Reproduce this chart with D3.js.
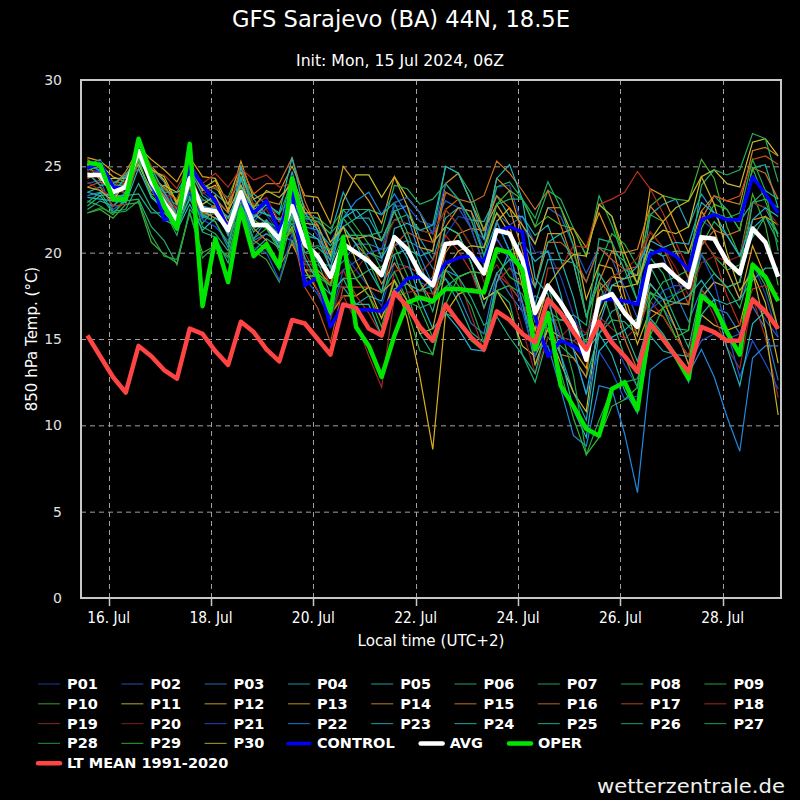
<!DOCTYPE html>
<html>
<head>
<meta charset="utf-8">
<script src="https://cdn.jsdelivr.net/npm/d3@7"></script>
<style>
  body { margin: 0; background: #000; }
</style>
</head>
<body>
<div id="display"></div>
<script>
// run starts 15 Jul 2024 14:00 local (12Z), one value every 6 hours
const startTime = Date.UTC(2024, 6, 15, 14);
const stepHours = 6;

const ltMean = [15.2,14.0,12.8,11.9, 14.6,14.0,13.2,12.7, 15.6,15.3,14.3,13.5, 16.0,15.4,14.4,13.7, 16.1,15.9,15.0,14.1, 17.0,16.8,15.6,15.2, 17.7,16.9,15.7,14.9, 17.0,16.0,15.1,14.4, 16.6,16.1,15.3,14.8, 17.3,16.5,15.4,14.4, 16.0,14.8,14.0,13.1, 15.9,15.0,14.0,13.1, 15.7,15.4,14.9,14.9, 17.3,16.6,15.6];
const avg = [24.5,24.5,23.5,23.8, 25.9,24.1,22.9,21.9, 24.3,22.5,22.4,21.3, 23.5,21.6,21.6,20.8, 22.7,20.5,19.8,18.6, 20.5,20.0,19.5,18.7, 20.9,20.2,18.8,18.1, 20.5,20.6,19.9,18.8, 21.3,21.1,19.6,16.5, 18.1,17.1,15.9,13.8, 17.3,17.6,16.5,15.7, 19.2,19.3,18.6,18.0, 20.9,20.8,19.5,18.8, 21.4,20.6,18.6];
const control = [24.9,25.2,23.8,23.7, 26.1,24.3,21.9,22.1, 25.0,23.9,23.0,21.4, 23.3,22.3,23.0,21.2, 23.6,18.1,18.6,15.7, 17.0,16.7,16.7,16.6, 17.6,18.5,18.6,18.3, 19.4,19.7,19.8,19.5, 21.2,21.5,21.2,16.3, 14.0,14.9,14.6,14.0, 17.3,17.3,17.2,17.0, 19.9,20.2,19.8,19.0, 21.9,22.2,21.9,21.9, 24.4,23.4,22.3];
const oper = [25.2,25.1,23.1,23.1, 26.6,24.5,22.7,21.4, 26.3,16.9,20.8,18.3, 22.5,19.8,20.5,19.2, 24.3,21.4,18.6,16.6, 20.9,15.7,14.6,12.8, 15.2,17.1,17.4,17.2, 17.9,17.9,17.8,17.7, 20.2,20.0,19.0,14.4, 16.5,12.3,11.1,9.8, 9.4,12.1,12.5,10.9, 15.9,15.0,14.0,12.7, 17.5,16.9,15.4,14.1, 19.3,18.6,17.2];

const p01 = [24.8,24.7,23.0,23.5, 26.1,23.7,23.4,22.7, 24.9,23.5,22.9,21.7, 24.3,22.8,22.2,21.1, 23.7,22.0,21.0,19.1, 20.0,19.0,18.0,16.9, 19.4,19.2,18.3,17.9, 21.0,22.1,21.9,20.3, 23.8,23.9,21.6,20.0, 20.1,18.6,16.4,14.6, 15.8,15.1,13.5,12.2, 16.7,17.3,17.6,18.5, 21.9,21.3,19.0,17.3, 19.4,17.6,15.1];
const p02 = [24.0,24.2,22.5,23.0, 25.6,24.3,23.3,22.2, 23.5,23.0,23.2,22.3, 23.0,21.8,22.6,22.3, 23.2,22.3,22.0,20.6, 22.0,21.0,20.0,19.5, 22.7,22.7,21.8,21.6, 23.0,22.6,21.4,20.8, 22.3,21.6,22.1,20.5, 22.6,22.1,20.4,18.8, 20.3,19.6,18.0,16.2, 17.7,16.8,15.6,13.5, 14.9,15.3,15.0,15.3, 17.4,16.1,15.1];
const p03 = [23.3,23.5,23.2,24.0, 25.1,23.6,22.7,22.4, 23.3,22.0,22.6,22.1, 22.0,20.8,21.9,21.0, 20.7,19.3,19.3,18.8, 19.5,20.5,20.5,20.2, 20.4,20.7,20.3,19.1, 18.5,17.6,15.9,15.3, 18.8,17.6,16.6,17.5, 17.1,15.1,14.9,15.3, 16.8,18.6,19.0,18.7, 20.2,19.8,17.6,16.0, 17.9,16.8,16.5,15.3, 16.9,15.6,12.6];
const p04 = [25.0,24.8,23.3,23.3, 25.4,24.9,24.1,22.3, 24.8,24.0,23.4,22.8, 24.4,23.4,22.8,21.3, 24.7,22.0,21.8,21.1, 23.5,22.0,22.0,20.7, 22.4,22.7,20.8,19.6, 22.0,22.6,22.4,19.8, 21.8,20.1,17.1,13.5, 15.6,14.1,11.9,10.3, 15.3,16.6,17.0,17.2, 22.2,22.8,23.1,21.5, 23.4,22.3,22.0,21.8, 22.9,22.6,21.1];
const p05 = [23.5,23.8,22.7,23.5, 25.3,23.2,22.6,22.0, 23.8,22.1,22.7,21.1, 24.2,23.1,22.2,22.0, 21.2,18.5,18.8,18.1, 18.0,17.0,17.5,17.2, 19.9,20.2,19.8,20.1, 23.5,23.1,21.9,21.8, 23.3,22.1,22.1,21.0, 21.6,19.6,17.4,14.3, 15.3,14.1,12.0,10.7, 15.2,14.3,14.1,14.0, 17.4,18.3,18.0,18.3, 21.4,22.1,21.1];
const p06 = [22.5,23.0,22.7,23.3, 23.4,22.3,22.3,21.5, 23.1,22.0,22.3,21.6, 22.5,20.1,20.8,20.3, 22.9,21.3,20.8,20.0, 21.5,22.0,22.5,22.2, 22.9,21.2,19.3,17.6, 18.5,17.1,15.4,14.8, 18.3,19.1,18.6,17.0, 19.6,19.6,19.4,18.3, 20.3,20.1,19.5,18.2, 20.2,19.8,20.1,20.0, 21.9,23.3,22.5,21.3, 24.9,25.1,22.6];
const p07 = [22.7,23.3,22.3,23.0, 23.1,21.5,20.7,19.3, 22.5,21.7,22.6,21.7, 22.7,21.2,21.8,21.4, 23.2,20.7,19.5,17.6, 18.5,18.5,19.0,19.2, 19.9,17.7,15.3,14.1, 18.0,18.6,18.9,17.3, 17.8,17.1,14.1,12.5, 15.1,14.6,13.9,12.8, 15.3,16.1,16.0,15.2, 17.7,17.3,15.6,15.5, 20.4,21.8,21.0,19.8, 20.9,22.1,20.6];
const p08 = [24.8,25.0,24.1,24.0, 26.3,24.7,23.1,22.8, 24.0,23.1,22.6,21.2, 24.4,21.7,21.4,20.3, 22.0,19.5,19.5,19.2, 21.0,20.8,21.0,20.7, 21.9,22.2,21.3,21.1, 25.0,24.6,23.4,21.3, 23.8,24.1,23.1,21.5, 23.6,23.1,21.4,19.8, 23.3,21.6,19.5,17.2, 19.7,18.8,17.1,17.0, 19.9,18.8,18.0,16.8, 19.4,18.1,15.6];
const p09 = [23.0,22.7,22.2,23.2, 25.5,24.5,23.7,23.1, 25.2,23.9,23.7,23.2, 25.0,22.7,22.8,22.2, 24.1,22.1,22.0,21.4, 22.5,21.5,20.5,19.0, 20.4,18.7,16.8,15.1, 16.5,16.1,14.9,14.3, 17.8,18.1,17.1,14.5, 16.6,16.1,15.9,14.8, 19.3,21.1,20.5,19.2, 22.2,21.8,20.1,18.5, 20.9,19.8,19.0,19.3, 22.9,23.1,22.6];
const p10 = [22.3,22.5,22.0,22.8, 22.9,20.6,19.9,19.4, 22.3,20.0,20.4,19.8, 22.5,20.1,19.6,18.3, 20.7,19.0,18.8,18.1, 21.0,21.0,20.0,19.7, 22.9,23.2,22.3,21.1, 22.5,21.6,20.4,20.3, 22.8,23.6,23.1,21.5, 22.1,21.6,21.4,19.8, 22.8,22.1,19.5,18.2, 22.7,23.3,23.1,23.0, 25.4,24.3,21.5,19.8, 23.4,21.6,18.1];
const p11 = [25.1,24.2,24.3,24.3, 25.1,23.6,23.9,23.5, 23.9,22.8,23.3,21.7, 22.9,22.5,22.9,21.8, 23.2,21.7,21.6,19.8, 23.0,24.5,24.5,23.2, 24.4,23.2,22.3,20.6, 21.5,21.1,19.4,17.3, 17.8,16.6,14.6,14.0, 15.6,13.6,11.9,10.8, 16.3,18.1,18.0,18.2, 20.7,21.3,21.1,21.5, 24.4,24.8,24.0,23.8, 26.4,26.6,25.6];
const p12 = [25.3,25.1,24.4,24.1, 26.3,25.0,24.2,22.8, 25.0,23.6,23.9,22.5, 24.7,22.3,21.7,20.3, 21.5,19.0,17.8,16.4, 17.5,17.5,18.0,17.7, 18.4,16.2,12.8,8.6, 16.5,17.6,17.9,17.8, 21.8,22.6,21.6,20.5, 22.6,22.6,20.9,17.3, 19.3,19.1,17.0,14.7, 16.7,16.3,15.1,14.0, 16.4,15.8,15.5,15.8, 18.9,17.1,13.6];
const p13 = [25.5,25.3,24.7,24.3, 26.1,25.4,24.8,24.1, 25.5,24.4,24.3,22.8, 25.3,23.1,23.5,23.5, 25.0,23.3,23.2,21.7, 25.0,24.0,23.0,21.7, 24.4,22.7,20.3,20.1, 24.0,24.6,22.9,21.3, 22.8,21.6,18.6,13.5, 15.6,15.1,14.4,13.3, 17.8,18.6,18.5,18.7, 23.7,23.3,21.6,20.0, 22.4,21.3,19.0,17.3, 20.4,18.6,15.6];
const p14 = [24.3,24.6,23.8,24.7, 26.0,24.6,23.2,22.5, 24.5,22.4,22.0,21.6, 23.9,21.4,20.7,19.2, 20.5,19.0,19.0,18.2, 21.0,20.8,21.0,20.7, 22.4,20.7,18.3,17.1, 21.5,22.6,22.4,20.8, 24.3,23.6,21.1,18.0, 21.1,21.1,21.4,20.3, 22.3,20.6,17.5,15.2, 18.2,17.3,15.6,13.5, 17.4,18.3,18.0,18.3, 21.9,22.1,21.6];
const p15 = [24.9,25.2,23.6,23.5, 25.7,24.0,23.3,22.1, 23.8,22.3,22.7,22.0, 23.2,22.0,23.0,22.8, 24.3,22.6,21.6,20.0, 21.5,20.5,19.7,18.2, 19.4,18.2,17.3,17.1, 20.0,21.1,21.4,21.3, 23.3,22.6,20.1,16.0, 16.1,14.1,13.9,12.8, 18.3,20.1,20.0,20.2, 22.7,21.8,20.1,18.5, 22.4,23.3,23.0,22.8, 25.9,26.1,25.6];
const p16 = [25.4,24.9,23.4,23.1, 25.3,24.4,23.8,23.0, 25.1,23.7,23.1,22.3, 25.0,23.4,24.0,24.0, 25.5,23.0,21.3,19.1, 20.0,18.5,17.5,16.2, 17.9,18.2,17.8,18.6, 22.5,23.1,22.9,23.3, 25.3,24.6,23.6,22.5, 23.6,21.6,19.4,16.3, 18.3,17.6,15.0,13.2, 16.2,16.8,17.1,17.0, 20.4,21.3,21.0,21.3, 24.9,24.6,23.1];
const p17 = [23.8,24.1,23.8,24.6, 24.8,23.4,23.1,22.6, 23.7,22.2,22.8,21.0, 22.2,20.5,21.1,20.6, 21.2,18.0,16.8,14.8, 18.0,18.0,18.0,17.7, 20.4,21.2,20.8,20.6, 23.5,23.1,21.4,19.3, 20.8,19.6,19.1,18.0, 20.6,20.6,19.9,18.3, 20.3,19.6,19.0,19.2, 21.2,20.3,18.6,17.0, 21.9,23.3,23.0,23.3, 25.4,25.6,25.1];
const p18 = [24.7,23.9,22.7,22.8, 25.6,24.7,24.5,23.7, 25.2,24.0,24.6,23.8, 24.9,24.2,24.5,23.8, 24.0,21.3,19.8,18.1, 19.0,17.5,16.5,15.2, 18.9,19.2,18.8,19.6, 21.0,20.1,18.9,16.8, 18.8,18.1,17.1,15.5, 19.1,19.1,20.4,20.3, 22.8,23.1,23.5,24.7, 23.7,22.3,20.6,19.0, 20.9,19.8,17.5,15.8, 17.9,18.1,17.6];
const p19 = [24.1,23.6,23.3,24.2, 26.2,25.0,23.4,23.1, 24.7,23.4,23.8,23.1, 24.2,22.8,23.2,21.8, 23.1,20.0,18.6,16.6, 17.5,16.0,14.0,12.2, 17.4,17.7,17.8,17.6, 19.5,18.6,16.4,14.3, 18.3,19.1,18.1,16.5, 17.1,15.1,14.9,14.3, 16.3,15.6,15.0,15.7, 17.2,16.3,15.1,14.0, 17.9,16.3,14.5,13.3, 17.4,15.1,11.6];
const p20 = [24.8,24.6,24.1,23.7, 26.0,24.5,23.6,22.4, 24.8,22.7,22.2,21.7, 23.8,22.2,22.5,21.2, 22.2,19.5,17.8,16.1, 18.5,19.0,20.0,20.2, 21.9,21.7,21.3,21.1, 22.5,21.6,20.4,18.3, 19.3,18.1,15.6,13.0, 15.1,15.1,15.9,15.3, 17.3,18.6,19.0,19.7, 21.2,20.3,19.1,17.5, 19.4,19.8,19.5,19.8, 22.9,22.6,21.6];
const p21 = [24.4,24.8,23.1,22.9, 26.1,23.8,22.0,21.7, 23.5,21.9,21.5,20.7, 23.1,20.3,20.0,18.4, 21.1,18.5,17.6,16.2, 19.0,19.5,20.0,20.2, 22.9,23.2,22.3,21.1, 24.0,23.1,21.4,19.3, 20.8,19.6,16.6,14.0, 16.6,15.1,14.4,11.8, 14.3,13.1,11.5,11.7, 16.7,17.8,18.1,18.0, 19.9,18.3,15.5,12.8, 14.9,13.6,12.1];
const p22 = [25.2,24.7,23.2,23.9, 26.4,23.9,23.2,21.7, 24.4,22.1,21.8,20.3, 23.3,20.7,21.1,20.6, 23.1,21.5,21.3,19.5, 22.0,23.0,23.5,22.2, 23.4,22.2,19.8,18.1, 19.0,18.6,18.9,18.8, 21.8,20.1,17.1,14.5, 14.6,12.1,9.4,8.8, 12.3,12.1,9.5,6.1, 13.2,13.8,14.1,13.0, 14.4,12.8,10.5,8.5, 13.9,14.6,14.6];
const p23 = [23.5,23.3,23.4,24.4, 25.4,24.2,23.5,22.2, 24.1,22.7,22.5,21.0, 25.0,22.2,21.7,20.3, 22.2,21.0,20.8,19.1, 22.0,22.5,21.5,19.7, 20.9,19.7,17.3,15.6, 16.5,15.6,14.4,14.3, 18.3,20.1,20.6,19.5, 20.1,17.6,14.4,11.8, 15.8,18.1,18.5,19.2, 20.7,20.3,20.6,20.5, 22.9,22.3,21.0,19.8, 21.9,22.6,22.1];
const p24 = [23.2,23.1,23.0,22.9, 24.9,23.2,22.5,21.3, 22.8,21.3,22.0,21.5, 24.3,22.0,22.8,22.3, 25.5,22.3,21.3,20.4, 21.5,20.5,19.0,17.7, 21.4,21.7,21.3,21.6, 25.0,24.6,22.9,20.8, 24.3,25.1,23.1,18.5, 17.6,14.1,10.9,9.3, 14.3,15.1,15.5,16.2, 18.2,17.3,17.1,17.5, 18.4,17.3,14.5,12.3, 15.9,16.6,15.6];
const p25 = [24.6,23.9,24.0,24.5, 25.7,24.9,23.5,23.5, 24.8,23.3,22.8,22.0, 23.8,22.5,22.2,21.9, 22.4,19.7,18.3,17.6, 18.5,17.0,17.0,15.2, 17.9,18.2,17.8,18.1, 21.5,21.1,19.4,16.8, 18.8,19.6,19.6,18.0, 20.6,21.1,19.4,16.3, 18.8,17.6,15.5,13.7, 16.2,15.3,14.1,12.5, 16.4,17.3,17.0,17.3, 18.4,19.1,19.1];
const p26 = [22.9,23.5,22.4,22.5, 24.0,22.6,21.9,21.5, 23.2,21.2,20.9,19.4, 22.7,21.4,21.9,20.5, 21.7,20.0,20.3,19.6, 22.5,22.5,22.5,20.7, 22.4,20.7,18.3,16.6, 19.5,18.6,17.4,15.8, 16.3,15.1,14.1,13.0, 16.1,16.1,16.4,15.8, 20.8,20.6,19.0,17.2, 19.2,17.8,16.1,14.5, 17.9,18.8,18.0,18.3, 22.9,23.6,23.1];
const p27 = [25.1,25.4,23.9,23.9, 26.2,24.2,22.5,21.0, 23.9,21.5,21.1,20.1, 22.8,20.7,20.2,19.0, 22.1,20.3,20.4,20.2, 21.0,21.0,21.0,21.2, 23.9,23.7,22.8,23.1, 24.0,23.1,21.9,19.8, 22.8,23.1,23.1,22.0, 24.1,22.6,20.4,16.3, 18.3,16.1,14.0,12.2, 17.2,18.3,18.6,19.0, 23.9,24.8,24.5,24.8, 26.9,26.6,24.1];
const p28 = [22.3,22.6,22.3,22.4, 23.0,21.0,19.8,19.6, 22.3,19.7,20.4,19.7, 22.3,20.8,21.4,21.2, 23.7,22.0,21.8,21.1, 22.0,21.0,19.5,17.7, 18.9,17.2,16.8,17.1, 19.0,18.1,16.9,14.8, 17.8,18.1,17.6,15.5, 18.1,15.6,12.9,8.3, 10.3,12.1,12.5,12.7, 15.2,16.8,17.6,18.0, 21.9,22.3,22.0,22.3, 25.4,23.6,20.1];
const p29 = [24.8,25.0,23.3,23.2, 25.4,23.3,22.6,22.3, 24.6,22.2,21.8,20.5, 23.3,21.9,21.4,20.1, 21.4,18.7,18.6,18.1, 20.0,18.5,17.5,15.7, 18.4,16.7,14.3,14.1, 17.0,18.6,18.9,18.8, 19.8,18.6,18.1,16.0, 15.6,13.1,10.4,8.3, 9.3,11.1,11.5,12.2, 17.7,16.8,15.1,15.5, 21.4,22.8,22.5,21.3, 24.9,23.0,20.9];
const p30 = [23.8,23.6,23.0,24.1, 26.3,24.8,24.4,22.9, 24.9,23.7,24.2,22.4, 23.9,22.6,23.6,23.2, 24.0,22.3,22.3,20.6, 21.5,19.5,18.0,16.2, 18.4,17.2,15.3,15.6, 19.0,20.1,20.4,20.3, 22.3,21.1,18.1,15.5, 18.1,19.1,19.9,19.8, 22.8,22.1,20.0,18.2, 20.7,21.8,22.6,23.0, 24.4,22.8,20.0,17.8, 18.9,15.6,10.6];

const members = [p01,p02,p03,p04,p05,p06,p07,p08,p09,p10,p11,p12,p13,p14,p15,
                 p16,p17,p18,p19,p20,p21,p22,p23,p24,p25,p26,p27,p28,p29,p30];
const memberNames = members.map((m, i) => 'P' + String(i + 1).padStart(2, '0'));
const memberColors = ['#2040b0','#2458c8','#2a78c8','#20a0b8','#20b0b0','#20b090','#20b070','#20b058','#28b040','#40b030',
                      '#c8c030','#d8b020','#d8a020','#d89020','#d88020','#d07020','#c85020','#b83020','#a02828','#902020',
                      '#2050d0','#2088e0','#20b0d0','#20b8c0','#20b8a0','#20b080','#20b060','#20a848','#30b830','#c0b428'];

const yTicks = [0, 5, 10, 15, 20, 25, 30];
const xTickDays = [16, 18, 20, 22, 24, 26, 28];

const times = ltMean.map((d, i) => new Date(startTime + i * stepHours * 3600e3));

const svg = d3.select('#display')
  .append('svg')
  .attr('width', 800)
  .attr('height', 800)
  .style('display', 'block');

svg.append('rect').attr('width', 800).attr('height', 800).attr('fill', '#000');

const plotLeft = 81, plotRight = 781, plotTop = 80, plotBottom = 598;

const x = d3.scaleUtc()
  .domain([new Date(Date.UTC(2024, 6, 15, 11, 0)), new Date(Date.UTC(2024, 6, 29, 3, 20))])
  .range([plotLeft, plotRight]);
const y = d3.scaleLinear().domain([0, 30]).range([plotBottom, plotTop]);

const condensed = "'Liberation Sans Narrow', 'DejaVu Sans Condensed', 'Liberation Sans', sans-serif";
const plain = "'DejaVu Sans', 'Liberation Sans', sans-serif";

// titles
svg.append('text')
  .attr('x', 401).attr('y', 27)
  .attr('text-anchor', 'middle')
  .attr('fill', '#fff')
  .attr('font-family', condensed)
  .attr('font-size', '23px')
  .attr('textLength', 338).attr('lengthAdjust', 'spacingAndGlyphs')
  .text('GFS Sarajevo (BA) 44N, 18.5E');

svg.append('text')
  .attr('x', 400).attr('y', 66)
  .attr('text-anchor', 'middle')
  .attr('fill', '#fff')
  .attr('font-family', condensed)
  .attr('font-size', '15px')
  .attr('textLength', 208).attr('lengthAdjust', 'spacingAndGlyphs')
  .text('Init: Mon, 15 Jul 2024, 06Z');

// grid
const grid = svg.append('g')
  .attr('stroke', '#a0a0a0')
  .attr('stroke-width', 1)
  .attr('stroke-dasharray', '5,4');

grid.selectAll('line.h')
  .data(yTicks.filter(t => t > 0 && t < 30))
  .enter().append('line')
  .attr('x1', plotLeft).attr('x2', plotRight)
  .attr('y1', d => y(d) + 0.5).attr('y2', d => y(d) + 0.5);

const tickDates = xTickDays.map(d => new Date(Date.UTC(2024, 6, d)));
grid.selectAll('line.v')
  .data(tickDates)
  .enter().append('line')
  .attr('x1', d => Math.round(x(d)) + 0.5).attr('x2', d => Math.round(x(d)) + 0.5)
  .attr('y1', plotTop).attr('y2', plotBottom);

// lines
svg.append('clipPath').attr('id', 'plotclip')
  .append('rect').attr('x', plotLeft).attr('y', plotTop)
  .attr('width', plotRight - plotLeft).attr('height', plotBottom - plotTop);

const line = d3.line()
  .x((d, i) => x(times[i]))
  .y(d => y(d));

const plot = svg.append('g').attr('clip-path', 'url(#plotclip)');

plot.selectAll('path.member')
  .data(members)
  .enter().append('path')
  .attr('class', 'member')
  .attr('d', line)
  .attr('fill', 'none')
  .attr('stroke', (d, i) => memberColors[i])
  .attr('stroke-width', 1.2)
  .attr('stroke-linejoin', 'miter');

const mainSeries = [
  { values: control, color: '#0000ff', width: 3.5 },
  { values: avg, color: '#ffffff', width: 4.5 },
  { values: oper, color: '#00e600', width: 4.5 },
  { values: ltMean, color: '#ff4444', width: 4.5 }
];

plot.selectAll('path.main')
  .data(mainSeries)
  .enter().append('path')
  .attr('class', 'main')
  .attr('d', d => line(d.values))
  .attr('fill', 'none')
  .attr('stroke', d => d.color)
  .attr('stroke-width', d => d.width)
  .attr('stroke-linejoin', 'round');

// frame
svg.append('rect')
  .attr('x', plotLeft).attr('y', plotTop)
  .attr('width', plotRight - plotLeft).attr('height', plotBottom - plotTop)
  .attr('fill', 'none')
  .attr('stroke', '#c8c8c8')
  .attr('stroke-width', 2);

// x axis ticks + labels
svg.selectAll('line.xtick')
  .data(tickDates)
  .enter().append('line')
  .attr('x1', d => Math.round(x(d)) + 0.5).attr('x2', d => Math.round(x(d)) + 0.5)
  .attr('y1', plotBottom).attr('y2', plotBottom + 8)
  .attr('stroke', '#c8c8c8')
  .attr('stroke-width', 1.5);

const fmt = d3.utcFormat('%-d. %b');
svg.selectAll('text.xtick')
  .data(tickDates)
  .enter().append('text')
  .attr('x', d => x(d))
  .attr('y', 623)
  .attr('text-anchor', 'middle')
  .attr('fill', '#fff')
  .attr('font-family', condensed)
  .attr('font-size', '15px')
  .attr('textLength', 43).attr('lengthAdjust', 'spacingAndGlyphs')
  .text(d => fmt(d));

svg.append('text')
  .attr('x', (plotLeft + plotRight) / 2).attr('y', 646)
  .attr('text-anchor', 'middle')
  .attr('fill', '#fff')
  .attr('font-family', condensed)
  .attr('font-size', '16px')
  .attr('textLength', 147).attr('lengthAdjust', 'spacingAndGlyphs')
  .text('Local time (UTC+2)');

// y axis labels
svg.selectAll('text.ytick')
  .data(yTicks)
  .enter().append('text')
  .attr('x', 62)
  .attr('y', d => y(d) + 5)
  .attr('text-anchor', 'end')
  .attr('fill', '#e0e0e0')
  .attr('font-family', plain)
  .attr('font-size', '14px')
  .text(d => d);

svg.append('text')
  .attr('transform', 'translate(37,339) rotate(-90)')
  .attr('text-anchor', 'middle')
  .attr('fill', '#fff')
  .attr('font-family', plain)
  .attr('font-size', '15px')
  .text('850 hPa Temp. (°C)');

// legend, flowing in rows: members take one column each, the rest take their natural width
const legendItems = memberNames.map((n, i) => ({ name: n, color: memberColors[i], width: 1.2, opacity: 0.75, fixed: true }))
  .concat([
    { name: 'CONTROL', color: '#0000ff', width: 3.5, opacity: 1 },
    { name: 'AVG', color: '#ffffff', width: 4.5, opacity: 1 },
    { name: 'OPER', color: '#00e600', width: 4.5, opacity: 1 },
    { name: 'LT MEAN 1991-2020', color: '#ff4444', width: 4.5, opacity: 1 }
  ]);

const legend = svg.append('g');
let lx = 38, ly = 684;
const colW = 83.3;
legendItems.forEach(item => {
  const g = legend.append('g');
  const t = g.append('text')
    .attr('y', 5)
    .attr('x', 29)
    .attr('fill', '#fff')
    .attr('font-family', plain)
    .attr('font-weight', 'bold')
    .attr('font-size', '14.5px')
    .text(item.name);
  const w = item.fixed ? colW : Math.max(colW, 29 + t.node().getComputedTextLength() + 26);
  if (lx + w > 795) { lx = 38; ly += 19.8; }
  g.attr('transform', `translate(${lx},${ly})`);
  g.append('line')
    .attr('x1', 0).attr('x2', 22)
    .attr('y1', 0).attr('y2', 0)
    .attr('stroke', item.color)
    .attr('stroke-width', item.width)
    .attr('stroke-opacity', item.opacity)
    .attr('stroke-linecap', item.width > 2 ? 'round' : 'butt');
  lx += w;
});

svg.append('text')
  .attr('x', 785).attr('y', 793)
  .attr('text-anchor', 'end')
  .attr('fill', '#f0f0f0')
  .attr('font-family', plain)
  .attr('font-size', '20px')
  .attr('textLength', 188).attr('lengthAdjust', 'spacingAndGlyphs')
  .text('wetterzentrale.de');
</script>
</body>
</html>
